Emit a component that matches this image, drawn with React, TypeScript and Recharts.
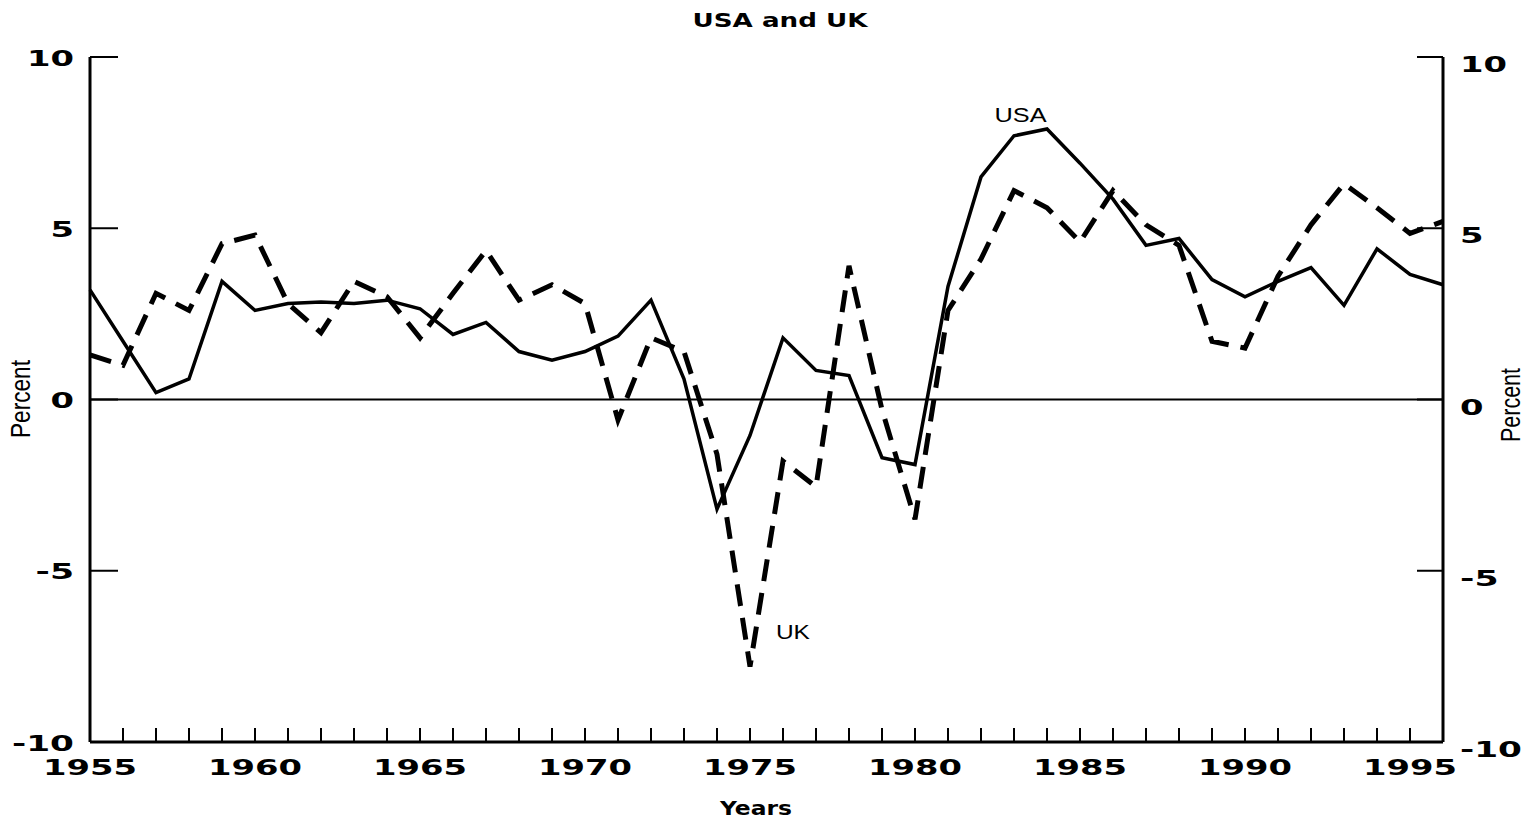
import React from "react";
import {
  LineChart,
  Line,
  XAxis,
  YAxis,
  ReferenceLine,
  ReferenceDot,
} from "recharts";

const years = [
  1955, 1956, 1957, 1958, 1959, 1960, 1961, 1962, 1963, 1964, 1965, 1966, 1967, 1968,
  1969, 1970, 1971, 1972, 1973, 1974, 1975, 1976, 1977, 1978, 1979, 1980, 1981, 1982,
  1983, 1984, 1985, 1986, 1987, 1988, 1989, 1990, 1991, 1992, 1993, 1994, 1995, 1996,
];

const usa = [
  3.2, 1.7, 0.2, 0.6, 3.45, 2.6, 2.8, 2.85, 2.8, 2.9, 2.65, 1.9, 2.25, 1.4,
  1.15, 1.4, 1.85, 2.9, 0.6, -3.2, -1.05, 1.8, 0.85, 0.7, -1.7, -1.9, 3.3, 6.5,
  7.7, 7.9, 6.9, 5.85, 4.5, 4.7, 3.5, 3.0, 3.45, 3.85, 2.75, 4.4, 3.65, 3.35,
];

const uk = [
  1.3, 1.0, 3.1, 2.6, 4.55, 4.8, 2.8, 1.95, 3.45, 3.0, 1.8, 3.1, 4.35, 2.9,
  3.35, 2.8, -0.6, 1.8, 1.4, -1.6, -7.8, -1.8, -2.55, 3.9, -0.3, -3.5, 2.6, 4.1,
  6.1, 5.6, 4.6, 6.1, 5.1, 4.5, 1.7, 1.5, 3.6, 5.1, 6.3, 5.6, 4.85, 5.2,
];

const yTicks = [-10, -5, 0, 5, 10];
const labelYears = [1955, 1960, 1965, 1970, 1975, 1980, 1985, 1990, 1995];

const data = years.map((year, i) => ({ year, usa: usa[i], uk: uk[i] }));

const NUM_FONT = "'DejaVu Sans', sans-serif";
const PLAIN_FONT = "'Liberation Sans', Arial, sans-serif";

// the original uses a very wide face, so stretch text to measured widths
function numWidth(label: string) {
  let w = 0;
  for (const ch of label) w += ch === "-" ? 15 : 23.5;
  return w;
}

function NumText(props: any) {
  const { label, ...rest } = props;
  return (
    <text
      {...rest}
      fontFamily={NUM_FONT}
      fontWeight="bold"
      fontSize={22}
      textLength={numWidth(label)}
      lengthAdjust="spacingAndGlyphs"
      fill="#000"
    >
      {label}
    </text>
  );
}

function XTick(props: any) {
  const { x, y, payload } = props;
  const yr = payload.value;
  return (
    <g>
      <line x1={x} y1={y} x2={x} y2={y - 14} stroke="#000" strokeWidth={2} />
      {labelYears.includes(yr) && (
        <NumText x={x} y={y + 33} textAnchor="middle" label={String(yr)} />
      )}
    </g>
  );
}

function LeftTick(props: any) {
  const { x, y, payload } = props;
  return (
    <g>
      <line x1={x} y1={y} x2={x + 28} y2={y} stroke="#000" strokeWidth={2} />
      <NumText x={x - 16} y={y + 8.5} textAnchor="end" label={String(payload.value)} />
    </g>
  );
}

function RightTick(props: any) {
  const { x, y, payload } = props;
  return (
    <g>
      <line x1={x} y1={y} x2={x - 26} y2={y} stroke="#000" strokeWidth={2} />
      <NumText x={x + 17} y={y + 15} textAnchor="start" label={String(payload.value)} />
    </g>
  );
}

function SeriesLabel({ text, width }: { text: string; width: number }) {
  return (props: any) => (
    <text
      x={props.cx}
      y={props.cy + 7}
      textAnchor="middle"
      fontFamily={PLAIN_FONT}
      fontSize={20}
      textLength={width}
      lengthAdjust="spacingAndGlyphs"
      fill="#000"
    >
      {text}
    </text>
  );
}

export default function App() {
  return (
    <div style={{ position: "relative", width: 1538, height: 823, background: "#fff" }}>
      <style>{"body{margin:0;background:#fff}"}</style>
      <LineChart
        width={1538}
        height={823}
        data={data}
        margin={{ top: 57, right: 0, bottom: 0, left: 0 }}
      >
        <XAxis
          dataKey="year"
          type="number"
          domain={[1955, 1996]}
          ticks={years}
          interval={0}
          height={81}
          tickSize={0}
          tickMargin={0}
          tickLine={false}
          axisLine={{ stroke: "#000", strokeWidth: 3 }}
          tick={<XTick />}
        />
        <XAxis
          xAxisId="top"
          dataKey="year"
          type="number"
          orientation="top"
          domain={[1955, 1996]}
          height={0}
          tick={false}
          tickLine={false}
          axisLine={{ stroke: "#000", strokeWidth: 3 }}
        />
        <YAxis
          yAxisId="left"
          type="number"
          domain={[-10, 10]}
          ticks={yTicks}
          interval={0}
          width={90}
          tickSize={0}
          tickMargin={0}
          tickLine={false}
          axisLine={{ stroke: "#000", strokeWidth: 3 }}
          tick={<LeftTick />}
        />
        <YAxis
          yAxisId="right"
          orientation="right"
          type="number"
          domain={[-10, 10]}
          ticks={yTicks}
          interval={0}
          width={95}
          tickSize={0}
          tickMargin={0}
          tickLine={false}
          axisLine={{ stroke: "#000", strokeWidth: 3 }}
          tick={<RightTick />}
        />
        <ReferenceLine yAxisId="left" y={0} stroke="#000" strokeWidth={2} />
        {/* invisible copy so the right axis has a series bound to it */}
        <Line
          yAxisId="right"
          dataKey="usa"
          type="linear"
          stroke="none"
          strokeOpacity={0}
          dot={false}
          activeDot={false}
          isAnimationActive={false}
        />
        <Line
          yAxisId="left"
          dataKey="usa"
          type="linear"
          stroke="#000"
          strokeWidth={3.5}
          dot={false}
          isAnimationActive={false}
        />
        <Line
          yAxisId="left"
          dataKey="uk"
          type="linear"
          stroke="#000"
          strokeWidth={5}
          strokeDasharray="22 12"
          dot={false}
          isAnimationActive={false}
        />
        <ReferenceDot
          yAxisId="left"
          x={1983.2}
          y={8.3}
          r={0}
          shape={SeriesLabel({ text: "USA", width: 52 })}
        />
        <ReferenceDot
          yAxisId="left"
          x={1976.3}
          y={-6.8}
          r={0}
          shape={SeriesLabel({ text: "UK", width: 34 })}
        />
      </LineChart>

      <svg
        width={1538}
        height={823}
        style={{ position: "absolute", left: 0, top: 0, pointerEvents: "none" }}
      >
        <text
          x={780}
          y={27}
          textAnchor="middle"
          fontFamily={NUM_FONT}
          fontWeight="bold"
          fontSize={20}
          textLength={175}
          lengthAdjust="spacingAndGlyphs"
        >
          USA and UK
        </text>
        <text
          x={756}
          y={815}
          textAnchor="middle"
          fontFamily={NUM_FONT}
          fontWeight="bold"
          fontSize={20}
          textLength={72}
          lengthAdjust="spacingAndGlyphs"
        >
          Years
        </text>
        <text
          transform="translate(30,399) rotate(-90)"
          textAnchor="middle"
          fontFamily={PLAIN_FONT}
          fontSize={28}
          textLength={78}
          lengthAdjust="spacingAndGlyphs"
        >
          Percent
        </text>
        <text
          transform="translate(1520,405) rotate(-90)"
          textAnchor="middle"
          fontFamily={PLAIN_FONT}
          fontSize={28}
          textLength={74}
          lengthAdjust="spacingAndGlyphs"
        >
          Percent
        </text>
      </svg>
    </div>
  );
}
